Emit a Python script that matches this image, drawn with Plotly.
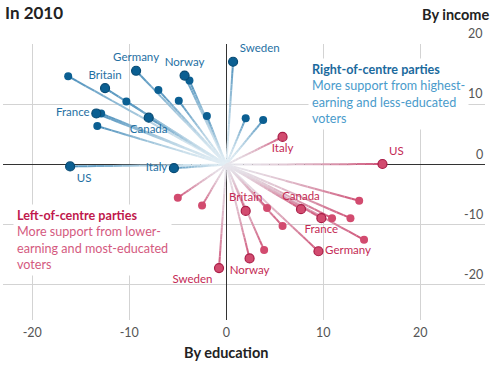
import plotly.graph_objects as go

# ---------------- data ----------------
# Right-of-centre parties (blue): x = by education, y = by income
right_names = ["US", "Italy", "Britain", "Germany", "Norway", "Sweden", "France", "Canada"]
right_edu = [-16.1, -5.4, -12.5, -9.3, -4.3, 0.7, -13.4, -8.0]
right_inc = [-0.3, -0.6, 12.7, 15.6, 14.8, 17.1, 8.5, 7.8]
right_other_edu = [-16.3, -7.0, -10.3, -13.3, -4.9, -2.0, 2.0, 3.8, -3.8, -12.9]
right_other_inc = [14.7, 12.4, 10.5, 6.4, 10.6, 8.1, 7.7, 7.4, 14.0, 8.5]

# Left-of-centre parties (red)
left_names = ["US", "Italy", "Britain", "Canada", "France", "Germany", "Norway", "Sweden"]
left_edu = [16.1, 5.8, 2.0, 7.7, 9.8, 9.5, 2.4, -0.75]
left_inc = [0.1, 4.6, -7.7, -7.4, -8.9, -14.4, -15.6, -17.2]
left_other_edu = [-5.0, -2.5, 4.2, 5.8, 3.9, 10.9, 12.8, 13.7, 14.2]
left_other_inc = [-5.5, -6.8, -7.2, -10.2, -14.2, -8.9, -8.9, -6.0, -12.5]

x_ticks = [-20, -10, 0, 10, 20]
x_tick_labels = ["-20", "-10", "0", "10", "20"]
y_ticks = [-20, -10, 0, 10, 20]
y_tick_labels = ["-20", "-10", "0", "10", "20"]

# label placement (style)
right_pos = ["bottom right", "middle left", "top center", "top center",
             "top center", "top right", "middle left", "bottom center"]
left_pos = ["top right", "bottom center", "top center", "top center",
            "bottom center", "middle right", "bottom center", "bottom left"]

FONT = "Lato"
BLUE_DOT = "#0b5f92"
BLUE_EDGE = "#084a73"
BLUE_TXT = "#1f70a3"
RED_DOT = "#d24b6f"
RED_EDGE = "#a91d47"
RED_TXT = "#c42a55"


def hex2rgb(h):
    h = h.lstrip("#")
    return tuple(int(h[i:i + 2], 16) for i in (0, 2, 4))


def mix(c0, c1, t):
    a, b = hex2rgb(c0), hex2rgb(c1)
    return "rgb(%d,%d,%d)" % tuple(round(a[i] + (b[i] - a[i]) * t) for i in range(3))


def gradient_traces(xs, ys, c0, c1, n=18, width=2.0, power=1.6):
    out = []
    for k in range(n):
        t0, t1 = k / n, (k + 1) / n
        col = mix(c0, c1, ((t0 + t1) / 2) ** power)
        sx, sy = [], []
        for x, y in zip(xs, ys):
            sx += [x * t0, x * t1, None]
            sy += [y * t0, y * t1, None]
        out.append(go.Scatter(x=sx, y=sy, mode="lines",
                              line=dict(color=col, width=width),
                              hoverinfo="skip", showlegend=False))
    return out


fig = go.Figure()

all_right_x = right_edu + right_other_edu
all_right_y = right_inc + right_other_inc
all_left_x = left_edu + left_other_edu
all_left_y = left_inc + left_other_inc

for tr in gradient_traces(all_right_x, all_right_y, "#e3eef4", "#4a8fbb"):
    fig.add_trace(tr)
for tr in gradient_traces(all_left_x, all_left_y, "#e6e6ec", "#cf5277"):
    fig.add_trace(tr)

# unlabeled dots
fig.add_trace(go.Scatter(x=right_other_edu, y=right_other_inc, mode="markers",
                         marker=dict(size=8, color=BLUE_DOT, line=dict(width=0)),
                         showlegend=False, hoverinfo="skip"))
fig.add_trace(go.Scatter(x=left_other_edu, y=left_other_inc, mode="markers",
                         marker=dict(size=8, color=RED_DOT, line=dict(width=0)),
                         showlegend=False, hoverinfo="skip"))
# labeled dots
fig.add_trace(go.Scatter(x=right_edu, y=right_inc, mode="markers+text",
                         text=right_names, textposition=right_pos,
                         textfont=dict(family=FONT, size=11.5, color=BLUE_TXT),
                         marker=dict(size=9, color=BLUE_DOT, line=dict(width=1.2, color=BLUE_EDGE)),
                         showlegend=False, hoverinfo="skip"))
fig.add_trace(go.Scatter(x=left_edu, y=left_inc, mode="markers+text",
                         text=left_names, textposition=left_pos,
                         textfont=dict(family=FONT, size=11.5, color=RED_TXT),
                         marker=dict(size=9, color=RED_DOT, line=dict(width=1.2, color=RED_EDGE)),
                         showlegend=False, hoverinfo="skip"))

W, H = 492, 367
ML, MR, MT, MB = 3, 7, 44, 47
PW, PH = W - ML - MR, H - MT - MB


def px_x(p):
    return (p - ML) / PW


def px_y(p):
    return (H - MB - p) / PH


annotations = [
    dict(text="<b>In 2010</b>", xref="paper", yref="paper", x=px_x(3), y=px_y(13),
         xanchor="left", yanchor="middle", showarrow=False,
         font=dict(family=FONT, size=17, color="#222222")),
    dict(text="<b>By income</b>", xref="paper", yref="paper", x=px_x(491), y=px_y(15),
         xanchor="right", yanchor="middle", showarrow=False,
         font=dict(family=FONT, size=14.5, color="#222222")),
    dict(text="<b>By education</b>", xref="x", yref="paper", x=0, y=px_y(352),
         xanchor="center", yanchor="middle", showarrow=False,
         font=dict(family=FONT, size=14.5, color="#222222")),
    dict(text="<b>Right-of-centre parties</b><br>"
              "<span style='color:#4a9bcb'>More support from highest-</span><br>"
              "<span style='color:#4a9bcb'>earning and less-educated</span><br>"
              "<span style='color:#4a9bcb'>voters</span>",
         xref="paper", yref="paper", x=px_x(308), y=px_y(58),
         xanchor="left", yanchor="top", align="left", showarrow=False,
         bgcolor="white", borderpad=3,
         font=dict(family=FONT, size=12.6, color="#1b6a9d")),
    dict(text="<b>Left-of-centre parties</b><br>"
              "<span style='color:#d45a80'>More support from lower-</span><br>"
              "<span style='color:#d45a80'>earning and most-educated</span><br>"
              "<span style='color:#d45a80'>voters</span>",
         xref="paper", yref="paper", x=px_x(13), y=px_y(204),
         xanchor="left", yanchor="top", align="left", showarrow=False,
         bgcolor="white", borderpad=3,
         font=dict(family=FONT, size=12.6, color="#c0184c")),
]

# y-axis tick labels: right-aligned, sitting on top of their grid lines
for v, lab in zip(y_ticks, y_tick_labels):
    annotations.append(dict(text=lab, xref="paper", yref="y", x=1.0, y=v,
                            xanchor="right", yanchor="bottom", yshift=1,
                            showarrow=False,
                            font=dict(family=FONT, size=12.5, color="#555555")))

fig.update_layout(
    width=W, height=H,
    margin=dict(l=ML, r=MR, t=MT, b=MB),
    paper_bgcolor="white", plot_bgcolor="white",
    annotations=annotations,
    font=dict(family=FONT),
)
fig.update_xaxes(range=[-23.02, 26.67], tickvals=x_ticks, ticktext=x_tick_labels,
                 showgrid=True, gridcolor="#d3d3d3", gridwidth=1,
                 zeroline=True, zerolinecolor="#333333", zerolinewidth=1.2,
                 showline=False, ticks="", ticklabelstandoff=3,
                 tickfont=dict(family=FONT, size=12.5, color="#555555"))
fig.update_yaxes(range=[-25.83, 20.05], tickvals=y_ticks, showticklabels=False,
                 showgrid=True, gridcolor="#d3d3d3", gridwidth=1,
                 zeroline=True, zerolinecolor="#333333", zerolinewidth=1.2,
                 showline=False, ticks="")

fig.write_html("out.html", config={"displayModeBar": False},
               post_script="document.body.style.margin='0';document.body.style.overflow='hidden';")
